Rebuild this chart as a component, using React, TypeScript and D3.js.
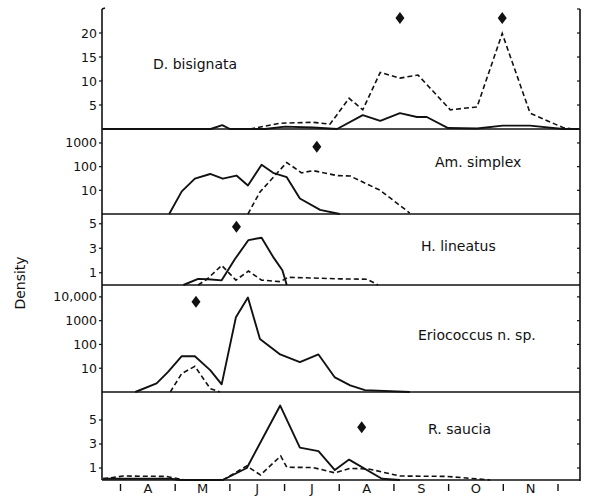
import React from "react";
import * as d3 from "d3";

// ---- categories / ticks ----
const monthLabels = ["A", "M", "J", "J", "A", "S", "O", "N"];
const speciesNames = ["D. bisignata", "Am. simplex", "H. lineatus", "Eriococcus n. sp.", "R. saucia"];

const ticks1 = [5, 10, 15, 20];
const ticks2 = [10, 100, 1000];
const ticks3 = [1, 3, 5];
const ticks4 = [10, 100, 1000, 10000];
const tickLabels4 = ["10", "100", "1000", "10,000"];
const ticks5 = [1, 3, 5];

// ---- series (month index from 1 April = 0, density) ----
// D. bisignata
const bisSolidM = [-0.32, 1.65, 1.86, 2.0, 2.64, 3.01, 3.52, 3.96, 4.43, 4.75, 5.11, 5.42, 5.6, 5.99, 6.52, 6.99, 7.49, 8.09, 8.39];
const bisSolidV = [0, 0, 0.8, 0, 0, 0.5, 0.3, 0, 2.9, 1.7, 3.3, 2.5, 2.5, 0.2, 0.1, 0.7, 0.7, 0, 0];
const bisDashM = [2.37, 2.92, 3.52, 3.83, 4.18, 4.43, 4.75, 5.11, 5.44, 6.03, 6.52, 6.98, 7.49, 8.09, 8.27];
const bisDashV = [0, 1.2, 1.4, 1.0, 6.4, 4.0, 11.8, 10.6, 11.25, 4.0, 4.6, 19.9, 3.3, 0.3, 0];
const bisPeakM = [5.11, 6.98];
const bisPeakV = [23.1, 23.1];

// Am. simplex
const simSolidM = [0.89, 1.12, 1.36, 1.64, 1.87, 2.12, 2.33, 2.58, 2.79, 3.04, 3.28, 3.65, 4.01];
const simSolidV = [1, 9, 31, 49, 31, 42, 16, 120, 55, 36, 4.5, 1.5, 1];
const simDashM = [2.33, 2.55, 3.04, 3.31, 3.52, 3.96, 4.2, 4.75, 5.29];
const simDashV = [1, 8.5, 150, 55, 68, 42, 40, 10, 1.1];
const simPeakM = [3.59];
const simPeakV = [700];

// H. lineatus
const linSolidM = [1.15, 1.42, 1.6, 1.85, 2.09, 2.34, 2.58, 2.79, 2.96, 3.04];
const linSolidV = [0, 0.5, 0.47, 0.38, 2.1, 3.67, 3.86, 2.3, 1.2, 0];
const linDashM = [1.42, 1.58, 1.85, 2.11, 2.34, 2.58, 2.92, 3.07, 4.01, 4.51, 4.71];
const linDashV = [0, 0.47, 1.6, 0.4, 1.14, 0.4, 0.27, 0.63, 0.5, 0.47, 0];
const linPeakM = [2.12];
const linPeakV = [4.76];

// Eriococcus n. sp.
const eriSolidM = [0.27, 0.66, 0.87, 1.12, 1.36, 1.64, 1.85, 2.11, 2.33, 2.55, 2.92, 3.28, 3.62, 3.92, 4.2, 4.47, 5.29];
const eriSolidV = [1, 2.3, 7, 32, 32, 8.3, 2.1, 1380, 9400, 170, 38, 18, 38, 4.1, 1.9, 1.2, 1];
const eriDashM = [0.91, 1.12, 1.36, 1.64, 1.82];
const eriDashV = [1, 6, 12, 1.4, 1];
const eriPeakM = [1.38];
const eriPeakV = [6200];

// R. saucia
const sauSolidM = [-0.32, 0.91, 1.09, 1.87, 2.31, 2.92, 3.28, 3.62, 3.92, 4.18, 4.78, 5.11];
const sauSolidV = [0.1, 0.1, 0, 0, 1.0, 6.2, 2.7, 2.4, 0.83, 1.7, 0.1, 0];
const sauDashM = [-0.32, 0.05, 0.84, 1.18, 1.87, 2.31, 2.56, 2.93, 3.04, 3.52, 3.92, 4.2, 4.56, 5.11, 5.96, 6.76];
const sauDashV = [0.1, 0.33, 0.3, 0, 0, 1.17, 0.42, 2.0, 1.06, 1.04, 0.6, 0.97, 0.9, 0.33, 0.3, 0];
const sauPeakM = [4.41];
const sauPeakV = [4.4];

const FONT = "'DejaVu Sans', sans-serif";

export default function App() {
  const W = 589, H = 497;
  const left = 102, right = 580;
  const x = d3.scaleLinear().domain([0, 8]).range([120.5, 558]);

  const panels = [
    {
      name: speciesNames[0], y: d3.scaleLinear().domain([0, 25]).range([129, 9]),
      ticks: ticks1, labels: ticks1.map(String), log: false,
      sM: bisSolidM, sV: bisSolidV, dM: bisDashM, dV: bisDashV, pM: bisPeakM, pV: bisPeakV,
      lx: 153, ly: 69,
    },
    {
      name: speciesNames[1], y: d3.scaleLog().domain([1, 3890]).range([214, 129]),
      ticks: ticks2, labels: ticks2.map(String), log: true,
      sM: simSolidM, sV: simSolidV, dM: simDashM, dV: simDashV, pM: simPeakM, pV: simPeakV,
      lx: 435, ly: 167,
    },
    {
      name: speciesNames[2], y: d3.scaleLinear().domain([0, 5.88]).range([285, 213]),
      ticks: ticks3, labels: ticks3.map(String), log: false,
      sM: linSolidM, sV: linSolidV, dM: linDashM, dV: linDashV, pM: linPeakM, pV: linPeakV,
      lx: 421, ly: 251,
    },
    {
      name: speciesNames[3], y: d3.scaleLog().domain([1, 31600]).range([392, 285]),
      ticks: ticks4, labels: tickLabels4, log: true,
      sM: eriSolidM, sV: eriSolidV, dM: eriDashM, dV: eriDashV, pM: eriPeakM, pV: eriPeakV,
      lx: 418, ly: 340,
    },
    {
      name: speciesNames[4], y: d3.scaleLinear().domain([0, 7.33]).range([480, 392]),
      ticks: ticks5, labels: ticks5.map(String), log: false,
      sM: sauSolidM, sV: sauSolidV, dM: sauDashM, dV: sauDashV, pM: sauPeakM, pV: sauPeakV,
      lx: 428, ly: 434,
    },
  ];

  const mkLine = (p: any, ms: number[], vs: number[]) => {
    const pts = ms.map((m, i) => [m, vs[i]] as [number, number]);
    const yy = (v: number) => (p.log ? p.y(Math.max(1, v)) : p.y(v));
    return d3.line<[number, number]>().x((d) => x(d[0])).y((d) => yy(d[1]))(pts) || "";
  };

  const diamond = (cx: number, cy: number) =>
    `M${cx},${cy - 6}L${cx + 4.5},${cy}L${cx},${cy + 6}L${cx - 4.5},${cy}Z`;

  return (
    <svg width={W} height={H} style={{ position: "absolute", left: 0, top: 0, background: "#fff" }}>
      <rect width={W} height={H} fill="#fff" />
      {/* y label */}
      <text
        transform={`translate(25,283) rotate(-90)`}
        textAnchor="middle"
        fontFamily={FONT}
        fontSize={14}
        fill="#111"
      >
        Density
      </text>

      {panels.map((p, i) => {
        const [y0] = p.y.range();
        return (
          <g key={i}>
            <line x1={left} x2={right} y1={y0} y2={y0} stroke="#111" strokeWidth={1.6} />
            {p.ticks.map((t: number, j: number) => (
              <g key={j}>
                <line x1={left - 3} x2={left} y1={p.y(t)} y2={p.y(t)} stroke="#111" strokeWidth={1.2} />
                <line x1={right - 3} x2={right} y1={p.y(t)} y2={p.y(t)} stroke="#111" strokeWidth={1.2} />
                <text
                  x={left - 5}
                  y={p.y(t) + 4.5}
                  textAnchor="end"
                  fontFamily={FONT}
                  fontSize={12.5}
                  fill="#111"
                >
                  {p.labels[j]}
                </text>
              </g>
            ))}
            <path d={mkLine(p, p.dM, p.dV)} fill="none" stroke="#111" strokeWidth={1.6} strokeDasharray="5 3" />
            <path d={mkLine(p, p.sM, p.sV)} fill="none" stroke="#111" strokeWidth={1.9} strokeLinejoin="round" />
            {p.pM.map((m: number, k: number) => (
              <path key={k} d={diamond(x(m), p.y(p.pV[k]))} fill="#111" />
            ))}
            <text x={p.lx} y={p.ly} fontFamily={FONT} fontSize={14} fill="#111">
              {p.name}
            </text>
          </g>
        );
      })}

      {/* outer axes */}
      <line x1={left} x2={left} y1={9} y2={480} stroke="#111" strokeWidth={1.6} />
      <line x1={left} x2={left + 3} y1={9} y2={8} stroke="#111" strokeWidth={1.4} />
      <line x1={right} x2={right} y1={9} y2={481} stroke="#111" strokeWidth={1.6} />
      <line x1={right - 3} x2={right} y1={9} y2={9} stroke="#111" strokeWidth={1.2} />

      {/* month ticks & labels */}
      {d3.range(0, 9).map((m) => (
        <line key={"mt" + m} x1={x(m)} x2={x(m)} y1={484} y2={491} stroke="#111" strokeWidth={1.4} />
      ))}
      {monthLabels.map((lab, i) => (
        <text
          key={"ml" + i}
          x={x(i + 0.5)}
          y={493}
          textAnchor="middle"
          fontFamily={FONT}
          fontSize={13}
          fill="#111"
        >
          {lab}
        </text>
      ))}
    </svg>
  );
}
